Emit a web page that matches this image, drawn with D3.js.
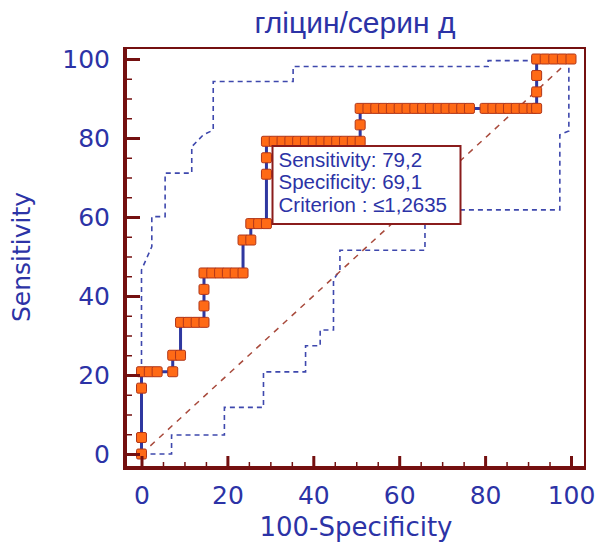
<!DOCTYPE html>
<html>
<head>
<meta charset="utf-8">
<script src="https://cdn.jsdelivr.net/npm/d3@7"></script>
<style>
  body { margin: 0; background: #fff; }
</style>
</head>
<body>
<div id="chart"></div>
<script>
// ROC curve points: [100-Specificity, Sensitivity]
const rocPoints = [
  [0, 0], [0, 4.17], [0, 16.67], [0, 20.83], [1.82, 20.83], [3.64, 20.83], [7.27, 20.83],
  [7.27, 25], [9.09, 25], [9.09, 33.33], [10.91, 33.33], [12.73, 33.33], [14.55, 33.33],
  [14.55, 37.5], [14.55, 41.67], [14.55, 45.83], [16.36, 45.83], [18.18, 45.83], [20, 45.83],
  [21.82, 45.83], [23.64, 45.83], [23.64, 54.17], [25.45, 54.17], [25.45, 58.33], [27.27, 58.33],
  [29.09, 58.33], [29.09, 70.83], [29.09, 75], [29.09, 79.17], [30.91, 79.17], [32.73, 79.17],
  [34.55, 79.17], [36.36, 79.17], [38.18, 79.17], [40, 79.17], [41.82, 79.17], [43.64, 79.17],
  [45.45, 79.17], [47.27, 79.17], [49.09, 79.17], [50.91, 79.17], [50.91, 83.33], [50.91, 87.5],
  [52.73, 87.5], [54.55, 87.5], [56.36, 87.5], [58.18, 87.5], [60, 87.5], [61.82, 87.5],
  [63.64, 87.5], [65.45, 87.5], [67.27, 87.5], [69.09, 87.5], [70.91, 87.5], [72.73, 87.5],
  [74.55, 87.5], [76.36, 87.5], [80, 87.5], [81.82, 87.5], [83.64, 87.5], [85.45, 87.5],
  [87.27, 87.5], [89.09, 87.5], [90.91, 87.5], [92, 87.5], [92, 91.67], [92, 95.83], [92, 100],
  [94, 100], [96, 100], [98, 100], [100, 100]
];

// 95% confidence bounds
const upperBound = [
  [0, 0], [0, 46.6], [2.4, 52.5], [2.4, 60.1], [5.5, 60.1], [5.5, 71.1], [11.7, 71.1],
  [11.7, 77.8], [14.4, 80.8], [16.7, 82], [16.7, 94.3], [35.3, 94.3], [35.3, 98.1],
  [80.7, 98.1], [80.7, 99.6], [92, 99.6], [100, 100]
];
const lowerBound = [
  [0, 0], [7, 0], [7, 4.8], [19.3, 4.8], [19.3, 11.8], [28.4, 11.8], [28.4, 20.8],
  [38.2, 20.8], [38.2, 27.4], [41.6, 27.4], [41.6, 31.4], [44.7, 31.4], [44.7, 44.1],
  [46.2, 46.6], [46.2, 51.6], [66, 51.6], [66, 61.8], [97.4, 61.8], [97.4, 80.8],
  [99.5, 81.8], [99.5, 98], [100, 100]
];
const diagonal = [[0, 0], [100, 100]];

const majorTicks = [0, 20, 40, 60, 80, 100];
const minorTicks = d3.range(0, 101, 5);

const titleText = "гліцин/серин д";
const xLabel = "100-Specificity";
const yLabel = "Sensitivity";
const infoLines = ["Sensitivity: 79,2", "Specificity: 69,1", "Criterion : \u22641,2635"];

const W = 597, H = 548;
const frame = { left: 125, right: 585, top: 48, bottom: 468 };
const axisColor = "#741010";
const textColor = "#2c33a6";

const svg = d3.select("#chart").append("svg")
  .attr("width", W)
  .attr("height", H);

const x = d3.scaleLinear().domain([0, 100]).range([141.5, 571]);
const y = d3.scaleLinear().domain([0, 100]).range([454, 59]);

// frame (top/right thinner)
svg.append("rect")
  .attr("x", frame.left).attr("y", frame.top)
  .attr("width", frame.right - frame.left).attr("height", frame.bottom - frame.top)
  .attr("fill", "none").attr("stroke", axisColor).attr("stroke-width", 2);

const line = d3.line().x(d => x(d[0])).y(d => y(d[1]));

// confidence bounds
[upperBound, lowerBound].forEach(b => {
  svg.append("path")
    .datum(b)
    .attr("d", line)
    .attr("fill", "none")
    .attr("stroke", "#3e48ad")
    .attr("stroke-width", 1.6)
    .attr("stroke-dasharray", "5,4");
});

// reference diagonal
svg.append("path")
  .datum(diagonal)
  .attr("d", line)
  .attr("fill", "none")
  .attr("stroke", "#a84a3c")
  .attr("stroke-width", 1.5)
  .attr("stroke-dasharray", "6,6");

// ROC line
svg.append("path")
  .datum(rocPoints)
  .attr("d", line)
  .attr("fill", "none")
  .attr("stroke", "#2f38a0")
  .attr("stroke-width", 3);

// markers
svg.append("g")
  .selectAll("rect")
  .data(rocPoints)
  .enter()
  .append("rect")
  .attr("x", d => x(d[0]) - 5)
  .attr("y", d => y(d[1]) - 5)
  .attr("width", 10)
  .attr("height", 10)
  .attr("rx", 1.5)
  .attr("fill", "#ff6a16")
  .attr("stroke", "#b0361a")
  .attr("stroke-width", 1);

// Y axis
const yAxis = svg.append("g")
  .attr("transform", `translate(${frame.left},0)`)
  .call(d3.axisLeft(y).tickValues(majorTicks).tickSize(-15).tickPadding(15));
svg.append("g")
  .attr("transform", `translate(${frame.left},0)`)
  .call(d3.axisLeft(y).tickValues(minorTicks).tickSize(-7).tickFormat(""))
  .call(g => g.selectAll("line").attr("stroke", axisColor).attr("stroke-width", 1.5))
  .call(g => g.select(".domain").remove());

// X axis
const xAxis = svg.append("g")
  .attr("transform", `translate(0,${frame.bottom})`)
  .call(d3.axisBottom(x).tickValues(majorTicks).tickSize(-12).tickPadding(18));
svg.append("g")
  .attr("transform", `translate(0,${frame.bottom})`)
  .call(d3.axisBottom(x).tickValues(minorTicks).tickSize(-6).tickFormat(""))
  .call(g => g.selectAll("line").attr("stroke", axisColor).attr("stroke-width", 1.5))
  .call(g => g.select(".domain").remove());

[yAxis, xAxis].forEach(a => {
  a.select(".domain").remove();
  a.selectAll("line").attr("stroke", axisColor).attr("stroke-width", 3);
  a.selectAll("text")
    .attr("fill", textColor)
    .style("font-family", "DejaVu Sans, sans-serif")
    .style("font-size", "25px");
});

// thick left and bottom axis lines
svg.append("line")
  .attr("x1", frame.left).attr("x2", frame.left)
  .attr("y1", frame.top - 1).attr("y2", frame.bottom + 2)
  .attr("stroke", axisColor).attr("stroke-width", 4);
svg.append("line")
  .attr("x1", frame.left - 2).attr("x2", frame.right + 1)
  .attr("y1", frame.bottom).attr("y2", frame.bottom)
  .attr("stroke", axisColor).attr("stroke-width", 4);

// info box
const box = svg.append("g");
box.append("rect")
  .attr("x", 272.5).attr("y", 146)
  .attr("width", 188).attr("height", 78)
  .attr("fill", "#fff")
  .attr("stroke", "#8a1c1c")
  .attr("stroke-width", 2);
box.selectAll("text")
  .data(infoLines)
  .enter()
  .append("text")
  .attr("x", 278.5)
  .attr("y", (d, i) => 166.5 + i * 22.5)
  .attr("fill", textColor)
  .style("font-family", "Liberation Sans, Arial, sans-serif")
  .style("font-size", "20.5px")
  .text(d => d);

// title and axis labels
svg.append("text")
  .attr("x", 355).attr("y", 33)
  .attr("text-anchor", "middle")
  .attr("fill", textColor)
  .style("font-family", "Liberation Sans, Arial, sans-serif")
  .style("font-size", "30px")
  .text(titleText);

svg.append("text")
  .attr("x", 356).attr("y", 536)
  .attr("text-anchor", "middle")
  .attr("fill", textColor)
  .style("font-family", "DejaVu Sans, sans-serif")
  .style("font-size", "26px")
  .text(xLabel);

svg.append("text")
  .attr("transform", "translate(30,257) rotate(-90)")
  .attr("text-anchor", "middle")
  .attr("fill", textColor)
  .style("font-family", "DejaVu Sans, sans-serif")
  .style("font-size", "25px")
  .text(yLabel);
</script>
</body>
</html>
